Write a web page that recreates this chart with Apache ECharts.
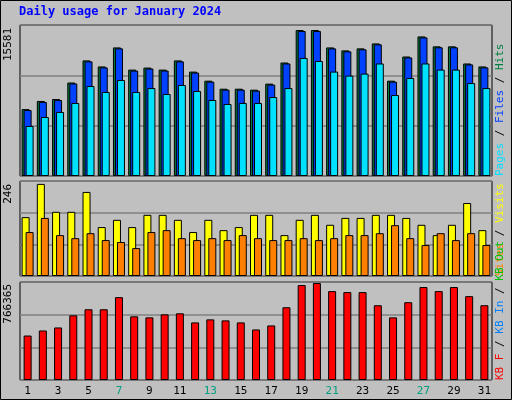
<!DOCTYPE html>
<html><head><meta charset="utf-8">
<script src="https://cdn.jsdelivr.net/npm/echarts@6/dist/echarts.min.js"></script>
<style>html,body{margin:0;padding:0;background:#c0c0c0}#c{width:512px;height:400px}</style>
</head><body><div id="c"></div>
<script>
const days = Array.from({length:31},(_,i)=>String(i+1));
const weekend = [6,7,13,14,20,21,27,28];
const hits = [7000,7850,8050,9780,12090,11460,13450,11130,11340,11130,12090,10920,9970,9130,9130,9030,9660,11870,15270,15270,13450,13140,13350,13870,9970,12500,14600,13560,13560,11770,11460];
const files = [6900,7750,7950,9680,11990,11360,13350,11030,11240,11030,11990,10820,9870,9030,9030,8930,9560,11770,15170,15170,13350,13040,13250,13770,9870,12400,14500,13460,13460,11670,11360];
const pages = [5230,6170,6700,7640,9410,8790,10040,8790,9200,8580,9520,8890,7950,7530,7640,7640,8260,9200,12350,12030,10920,10500,10710,11770,8470,10250,11770,11130,11130,9720,9200];
const visits = [154,241,168,168,220,128,147,128,160,160,147,115,147,120,128,160,160,107,147,160,134,152,152,160,160,152,134,107,134,191,120];
const sites = [115,152,107,99,112,94,89,73,115,120,99,94,99,94,107,99,94,94,99,94,99,107,107,112,133,99,81,112,94,112,81];
const kb = [347650,387160,410860,505670,553080,553080,647890,497770,489870,513570,521470,450370,474070,466170,450370,395060,426660,568880,742660,758460,695250,687350,687350,584690,489870,608390,727170,695250,727170,655750,584690];
const topLabel = "15581", midLabel = "246", botLabel = "766365";

const c = echarts.init(document.getElementById('c'));
const F = 'DejaVu Sans Mono';
const grids = [{left:20,right:20,top:25,height:151},{left:20,right:20,top:181,height:95},{left:20,right:20,top:282,height:98}];
const maxes = [15795, 248.6, 766400];
function yA(i){return {gridIndex:i,type:'value',min:0,max:maxes[i],interval:maxes[i]/3,axisLabel:{show:false},axisLine:{show:false},axisTick:{show:false},splitLine:{lineStyle:{color:'#808080',width:1.5}}};}
function xA(i){return {gridIndex:i,type:'category',data:days,axisLine:{show:false},axisTick:{show:false},
  axisLabel:{show:i===2,fontFamily:F,fontSize:11,margin:6,color:(v)=>weekend.includes(+v)?'#00a080':'#000000'}};}
const bs = (name,data,color,xi,extra)=>Object.assign({name,type:'bar',xAxisIndex:xi,yAxisIndex:xi,data,barWidth:8,
  itemStyle:{color,borderColor:'#000',borderWidth:1},animation:false},extra||{});
c.setOption({
  backgroundColor:'#c0c0c0',
  grid:grids.map(g=>Object.assign({show:true,borderColor:'#000',borderWidth:1,backgroundColor:'#c0c0c0'},g)),
  xAxis:[xA(0),xA(1),xA(2)], yAxis:[yA(0),yA(1),yA(2)],
  series:[
    bs('Hits',hits,'#008040',0,{barGap:'-75%'}),
    bs('Files',files,'#0040ff',0,{barGap:'-75%'}),
    bs('Pages',pages,'#00e0ff',0,{barGap:'-75%'}),
    bs('Visits',visits,'#ffff00',1,{barGap:'-50%'}),
    bs('Sites',sites,'#ff8000',1,{barGap:'-50%'}),
    bs('KB',kb,'#ff0000',2)
  ],
  graphic:[
    {type:'rect',shape:{x:0.5,y:0.5,width:511,height:399},style:{fill:'none',stroke:'#000',lineWidth:1}},
    {type:'text',left:19,top:6,style:{text:'Daily usage for January 2024',font:'bold 12px "DejaVu Sans Mono"',fill:'#0000ff'}},
    {type:'text',x:8,y:28,rotation:Math.PI/2,style:{text:topLabel,font:'11px "DejaVu Sans Mono"',fill:'#000',align:'right',verticalAlign:'middle'}},
    {type:'text',x:8,y:184,rotation:Math.PI/2,style:{text:midLabel,font:'11px "DejaVu Sans Mono"',fill:'#000',align:'right',verticalAlign:'middle'}},
    {type:'text',x:8,y:284,rotation:Math.PI/2,style:{text:botLabel,font:'11px "DejaVu Sans Mono"',fill:'#000',align:'right',verticalAlign:'middle'}},
    {type:'text',x:500,y:176,rotation:Math.PI/2,style:{rich:{p:{fill:'#00e0ff'},s:{fill:'#000'},f:{fill:'#0040ff'},h:{fill:'#008040'}},text:'{p|Pages}{s| / }{f|Files}{s| / }{h|Hits}',font:'11px "DejaVu Sans Mono"',verticalAlign:'middle'}},
    {type:'text',x:500,y:276,rotation:Math.PI/2,style:{rich:{o:{fill:'#ff8000'},s:{fill:'#000'},y:{fill:'#ffff00'}},text:'{o|Sites}{s| / }{y|Visits}',font:'11px "DejaVu Sans Mono"',verticalAlign:'middle'}},
    {type:'text',x:500,y:380,rotation:Math.PI/2,style:{rich:{r:{fill:'#ff0000'},s:{fill:'#000'},b:{fill:'#0080ff'},g:{fill:'#00c000'}},text:'{r|KB F}{s| / }{b|KB In}{s| / }{g|KB Out}',font:'11px "DejaVu Sans Mono"',verticalAlign:'middle'}}
  ]
});
</script></body></html>
